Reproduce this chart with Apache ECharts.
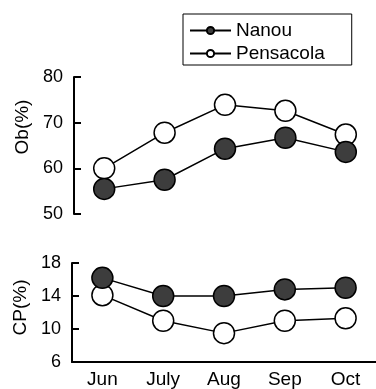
<!DOCTYPE html>
<html>
<head>
<meta charset="utf-8">
<script src="https://cdn.jsdelivr.net/npm/echarts@6/dist/echarts.min.js"></script>
<style>
html,body{margin:0;padding:0;background:#fff;}
#c{width:376px;height:389px;}
</style>
</head>
<body>
<div id="c"></div>
<script>
var months = ['Jun', 'July', 'Aug', 'Sep', 'Oct'];
var obNanou = [55.5, 57.5, 64.3, 66.7, 63.6];
var obPensacola = [60.0, 67.8, 73.9, 72.6, 67.4];
var cpNanou = [16.2, 14.0, 14.0, 14.8, 15.0];
var cpPensacola = [14.1, 11.0, 9.5, 11.0, 11.3];
var obTicks = {min: 50, max: 80, interval: 10};
var cpTicks = {min: 6, max: 18, interval: 4};

var FONT = 'Liberation Sans, Arial, sans-serif';
var chart = echarts.init(document.getElementById('c'), null, {renderer: 'canvas'});

function series(name, data, idx, dark) {
  return {
    name: name, type: 'line', data: data,
    xAxisIndex: idx, yAxisIndex: idx,
    symbol: 'circle', symbolSize: 21,
    lineStyle: {color: '#000', width: 1.5},
    itemStyle: {color: dark ? '#3d3d3d' : '#fff', borderColor: '#000', borderWidth: 1.5},
    emphasis: {disabled: true},
    animation: false, z: dark ? 3 : 2
  };
}

chart.setOption({
  animation: false,
  textStyle: {fontFamily: FONT},
  legend: {
    orient: 'vertical', left: 183, top: 14,
    padding: [7, 27, 2, 6], itemGap: 4,
    itemWidth: 41, itemHeight: 9,
    borderColor: '#000', borderWidth: 1,
    textStyle: {fontSize: 19, color: '#000', fontFamily: FONT},
    data: ['Nanou', 'Pensacola']
  },
  grid: [
    {left: 74, top: 77, width: 314, height: 137},
    {left: 72, top: 263, width: 314, height: 99}
  ],
  xAxis: [
    {type: 'category', gridIndex: 0, data: months, show: false, boundaryGap: true},
    {type: 'category', gridIndex: 1, data: months, boundaryGap: true,
     axisLine: {lineStyle: {color: '#000', width: 2}},
     axisTick: {inside: true, length: 8, lineStyle: {color: '#000', width: 2}},
     axisLabel: {color: '#000', fontSize: 19, margin: 8, fontFamily: FONT}}
  ],
  yAxis: [
    {type: 'value', gridIndex: 0, min: obTicks.min, max: obTicks.max, interval: obTicks.interval,
     name: 'Ob(%)', nameLocation: 'middle', nameGap: 40,
     nameTextStyle: {fontSize: 19, color: '#000', fontFamily: FONT, padding: [0, 0, 0, 37]},
     axisLine: {show: true, lineStyle: {color: '#000', width: 2}},
     axisTick: {show: true, inside: true, length: 7, lineStyle: {color: '#000', width: 2}},
     axisLabel: {color: '#000', fontSize: 18, margin: 11, fontFamily: FONT},
     splitLine: {show: false}},
    {type: 'value', gridIndex: 1, min: cpTicks.min, max: cpTicks.max, interval: cpTicks.interval,
     name: 'CP(%)', nameLocation: 'middle', nameGap: 40,
     nameTextStyle: {fontSize: 19, color: '#000', fontFamily: FONT, padding: [0, 0, 0, 10]},
     axisLine: {show: true, lineStyle: {color: '#000', width: 2}},
     axisTick: {show: true, inside: true, length: 7, lineStyle: {color: '#000', width: 2}},
     axisLabel: {color: '#000', fontSize: 18, margin: 11, fontFamily: FONT},
     splitLine: {show: false}}
  ],
  series: [
    series('Nanou', obNanou, 0, true),
    series('Pensacola', obPensacola, 0, false),
    series('Nanou', cpNanou, 1, true),
    series('Pensacola', cpPensacola, 1, false)
  ]
});
</script>
</body>
</html>
